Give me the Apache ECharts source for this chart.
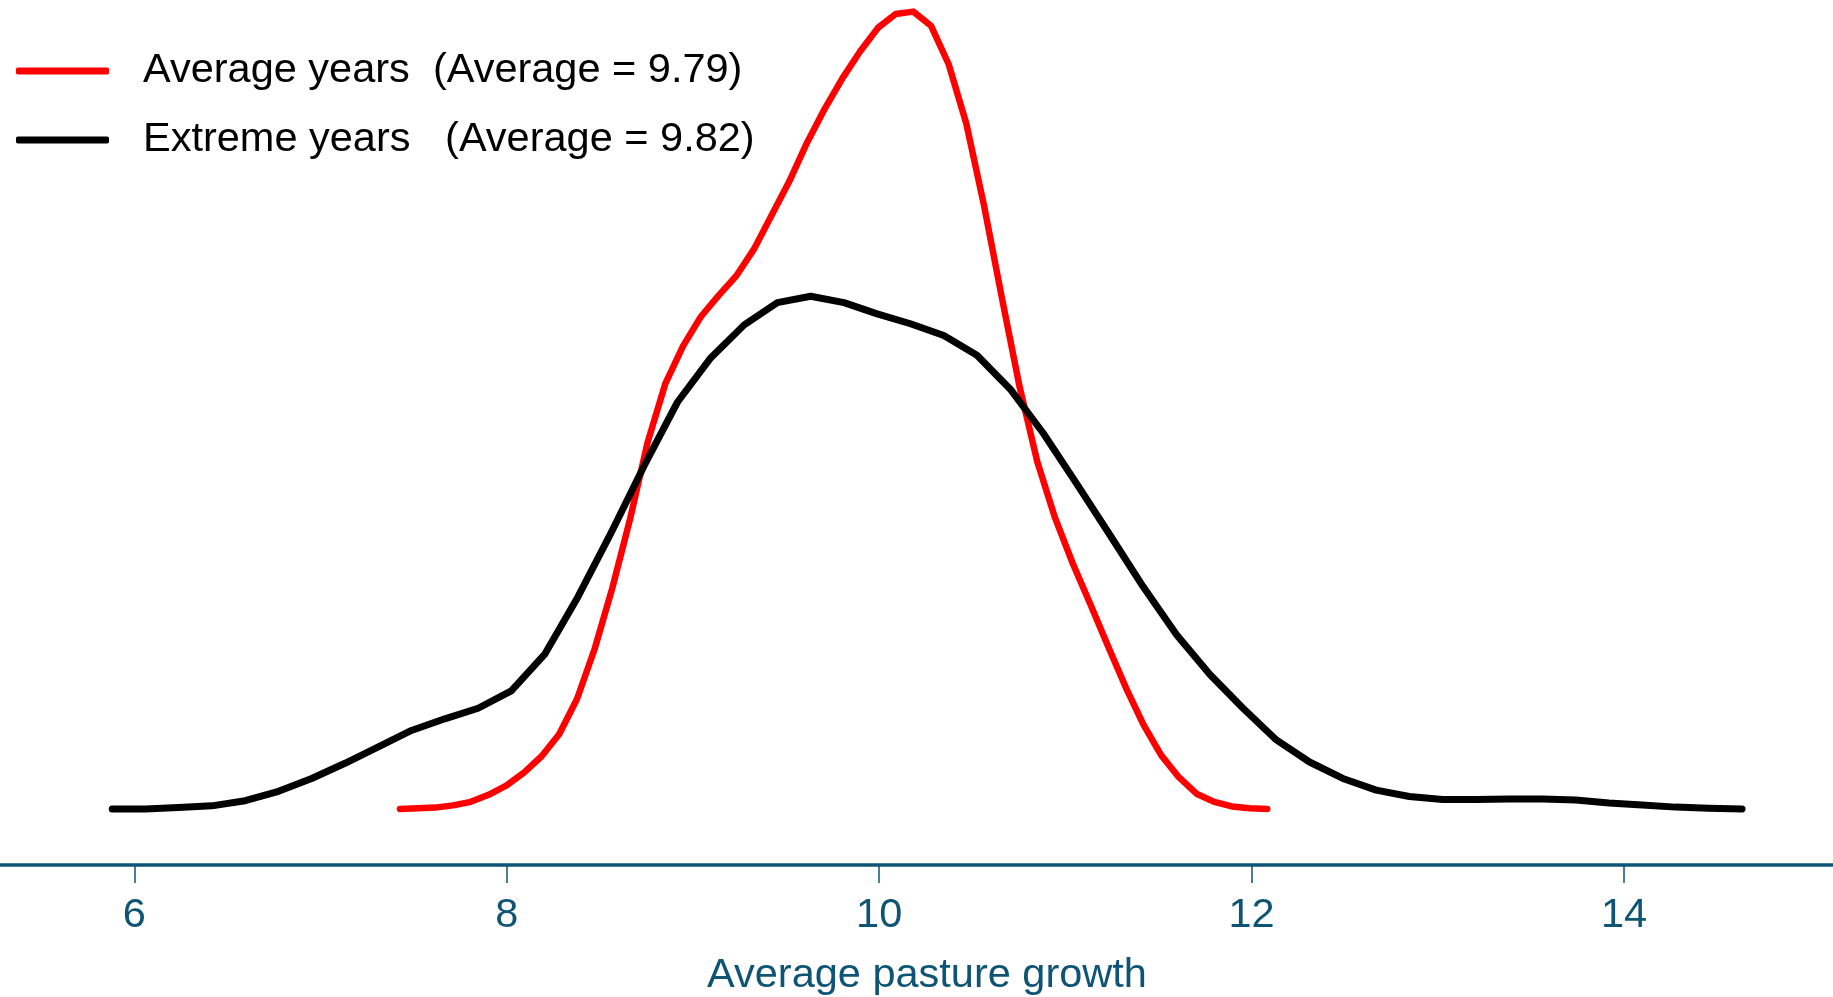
<!DOCTYPE html>
<html>
<head>
<meta charset="utf-8">
<title>Average pasture growth</title>
<script src="https://cdn.jsdelivr.net/npm/echarts@6/dist/echarts.min.js"></script>
<style>
  html, body { margin: 0; padding: 0; background: #ffffff; }
  #chart { width: 1833px; height: 997px; }
</style>
</head>
<body>
<div id="chart"></div>
<script>
// Kernel density estimates of average pasture growth (50 evaluation points each)
const averageYearsX = [
  7.426, 7.521, 7.616, 7.711, 7.807, 7.902, 7.997, 8.092, 8.187, 8.282,
  8.377, 8.472, 8.567, 8.662, 8.757, 8.852, 8.947, 9.042, 9.137, 9.233,
  9.328, 9.423, 9.518, 9.613, 9.708, 9.803, 9.898, 9.993, 10.088, 10.183,
  10.278, 10.373, 10.468, 10.563, 10.659, 10.754, 10.849, 10.944, 11.039, 11.134,
  11.229, 11.324, 11.419, 11.514, 11.609, 11.704, 11.799, 11.894, 11.989, 12.084
];
const averageYearsDensity = [
  0.0007, 0.0011, 0.0015, 0.0029, 0.0051, 0.0095, 0.0153, 0.0234, 0.0336, 0.0475,
  0.0694, 0.1008, 0.1388, 0.1819, 0.2301, 0.2667, 0.2901, 0.3083, 0.3215, 0.3339,
  0.3507, 0.3719, 0.3931, 0.4172, 0.4384, 0.4574, 0.4742, 0.4888, 0.4975, 0.4990,
  0.4902, 0.4661, 0.4289, 0.3777, 0.3200, 0.2645, 0.2177, 0.1827, 0.1542, 0.1286,
  0.1023, 0.0767, 0.0533, 0.0343, 0.0205, 0.0102, 0.0051, 0.0022, 0.0011, 0.0007
];
const extremeYearsX = [
  5.881, 6.059, 6.238, 6.416, 6.595, 6.774, 6.952, 7.131, 7.310, 7.488,
  7.667, 7.846, 8.024, 8.203, 8.381, 8.560, 8.739, 8.917, 9.096, 9.275,
  9.453, 9.632, 9.811, 9.989, 10.168, 10.347, 10.525, 10.704, 10.882, 11.061,
  11.240, 11.418, 11.597, 11.776, 11.954, 12.133, 12.311, 12.490, 12.669, 12.847,
  13.026, 13.205, 13.383, 13.562, 13.741, 13.919, 14.098, 14.277, 14.455, 14.634
];
const extremeYearsDensity = [
  0.0007, 0.0007, 0.0015, 0.0026, 0.0058, 0.0117, 0.0197, 0.0292, 0.0395, 0.0497,
  0.0570, 0.0636, 0.0745, 0.0972, 0.1330, 0.1732, 0.2155, 0.2550, 0.2827, 0.3032,
  0.3171, 0.3211, 0.3171, 0.3101, 0.3039, 0.2966, 0.2842, 0.2630, 0.2353, 0.2038,
  0.1717, 0.1395, 0.1096, 0.0847, 0.0636, 0.0438, 0.0300, 0.0197, 0.0124, 0.0084,
  0.0066, 0.0066, 0.0069, 0.0069, 0.0062, 0.0044, 0.0031, 0.0018, 0.0011, 0.0007
];
const xTickValues = [6, 8, 10, 12, 14];
const averageYearsMean = '9.79';
const extremeYearsMean = '9.82';
const seriesNames = [
  'Average years  (Average = ' + averageYearsMean + ')',
  'Extreme years   (Average = ' + extremeYearsMean + ')'
];
const xAxisTitle = 'Average pasture growth';

const FONT = '"Liberation Sans", Arial, Helvetica, sans-serif';
const AXIS_BLUE = '#0e5475';
const FONT_SIZE = 41.5;

const toPoints = (xs, ys) => xs.map((x, i) => [x, ys[i]]);

const chart = echarts.init(document.getElementById('chart'), null, { renderer: 'canvas' });

chart.setOption({
  animation: false,
  backgroundColor: '#ffffff',
  grid: {
    left: 0,
    right: 0,
    top: 10,
    bottom: 187,
    containLabel: false,
    outerBoundsMode: 'none'
  },
  legend: {
    data: seriesNames,
    orient: 'vertical',
    left: 16,
    top: 47,
    padding: 0,
    icon: 'roundRect',
    itemWidth: 93,
    itemHeight: 7,
    itemGap: 21,
    formatter: '{g| }{name}',
    textStyle: {
      fontFamily: FONT,
      fontSize: FONT_SIZE,
      color: '#000000',
      lineHeight: 48,
      rich: { g: { width: 29 } }
    }
  },
  xAxis: {
    type: 'value',
    min: 5.2782,
    max: 15.1224,
    offset: 55,
    splitLine: { show: false },
    axisLine: { show: true, onZero: false, lineStyle: { color: AXIS_BLUE, width: 3.5 } },
    axisTick: {
      show: true,
      length: 18,
      customValues: xTickValues,
      lineStyle: { color: AXIS_BLUE, width: 1.5 }
    },
    axisLabel: {
      customValues: xTickValues,
      margin: 29.5,
      fontFamily: FONT,
      fontSize: FONT_SIZE,
      lineHeight: FONT_SIZE,
      color: AXIS_BLUE
    },
    name: xAxisTitle,
    nameLocation: 'middle',
    nameGap: 89.5,
    nameTextStyle: {
      fontFamily: FONT,
      fontSize: FONT_SIZE,
      lineHeight: FONT_SIZE,
      color: AXIS_BLUE,
      padding: [0, 0, 0, 21]
    }
  },
  yAxis: {
    type: 'value',
    min: 0,
    max: 0.5,
    show: false
  },
  series: [
    {
      name: seriesNames[0],
      type: 'line',
      data: toPoints(averageYearsX, averageYearsDensity),
      symbol: 'none',
      showSymbol: false,
      clip: false,
      color: '#ff0000',
      lineStyle: { color: '#ff0000', width: 6.5, cap: 'round', join: 'round' },
      z: 2
    },
    {
      name: seriesNames[1],
      type: 'line',
      data: toPoints(extremeYearsX, extremeYearsDensity),
      symbol: 'none',
      showSymbol: false,
      clip: false,
      color: '#000000',
      lineStyle: { color: '#000000', width: 7, cap: 'round', join: 'round' },
      z: 3
    }
  ]
});
</script>
</body>
</html>
